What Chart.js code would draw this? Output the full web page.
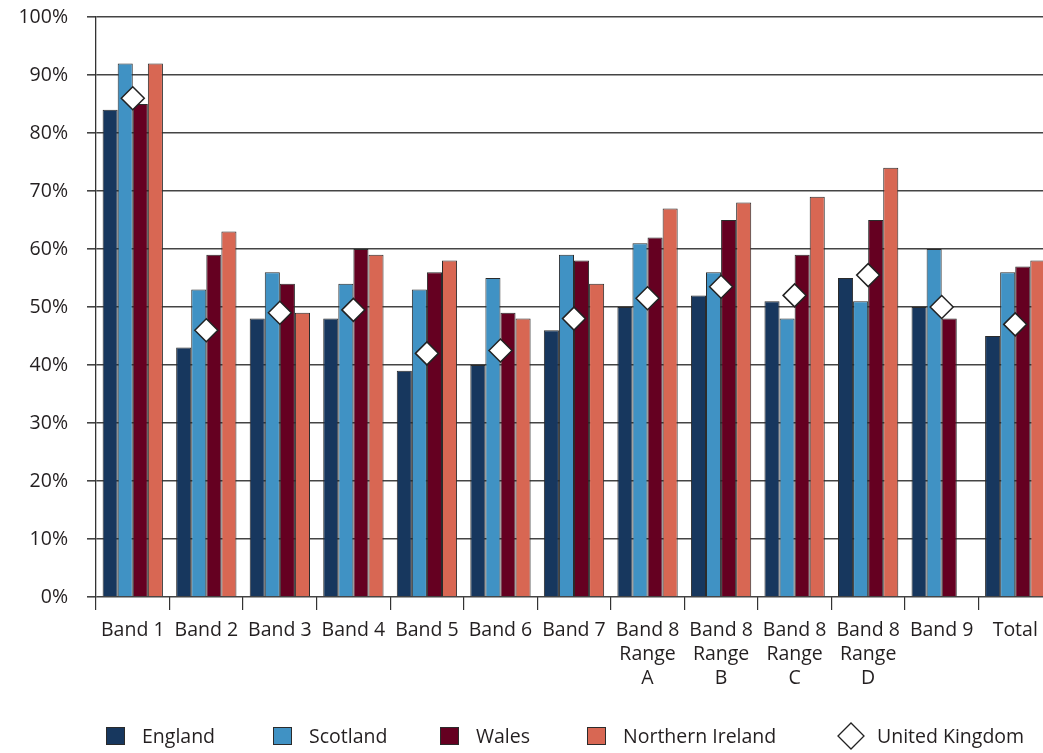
<!DOCTYPE html>
<html>
<head>
<meta charset="utf-8">
<script src="https://cdn.jsdelivr.net/npm/chart.js@4.4.1/dist/chart.umd.min.js"></script>
<style>
  html, body { margin: 0; padding: 0; background: #fff; overflow: hidden; }
  #wrap { width: 1065px; height: 753px; position: relative; }
</style>
</head>
<body>
<div id="wrap"><canvas id="c" width="1065" height="753"></canvas></div>
<script>
// Pay bands, proportion (%) per nation
const categories = [
  'Band 1', 'Band 2', 'Band 3', 'Band 4', 'Band 5', 'Band 6', 'Band 7',
  ['Band 8', 'Range', 'A'], ['Band 8', 'Range', 'B'], ['Band 8', 'Range', 'C'],
  ['Band 8', 'Range', 'D'], 'Band 9', 'Total'
];
const england         = [84, 43, 48, 48, 39, 40, 46, 50, 52, 51, 55, 50, 45];
const scotland        = [92, 53, 56, 54, 53, 55, 59, 61, 56, 48, 51, 60, 56];
const wales           = [85, 59, 54, 60, 56, 49, 58, 62, 65, 59, 65, 48, 57];
const northernIreland = [92, 63, 49, 59, 58, 48, 54, 67, 68, 69, 74, null, 58];
const unitedKingdom   = [86, 46, 49, 49.5, 42, 42.5, 48, 51.5, 53.5, 52, 55.5, 50, 47];
const yTicks = [0, 10, 20, 30, 40, 50, 60, 70, 80, 90, 100];

const FONT = "'Open Sans', 'DejaVu Sans', sans-serif";
const TEXT = '#231f20';
const colors = {
  england: '#17375e',
  scotland: '#4092c4',
  wales: '#650021',
  ni: '#d86753'
};

function barSet(label, data, color) {
  return {
    type: 'bar', label, data,
    backgroundColor: color,
    borderColor: '#2b2b2b',
    borderWidth: 1,
    categoryPercentage: 0.82,
    barPercentage: 1.0,
    order: 1
  };
}

// Legend drawn in fixed columns beneath the axis
const bottomLegend = {
  id: 'bottomLegend',
  afterDraw(chart) {
    const ctx = chart.ctx;
    const y = 736;
    const cols = [106, 273, 440, 587, 838];
    ctx.save();
    ctx.font = '19.5px ' + FONT;
    ctx.textBaseline = 'middle';
    ctx.fillStyle = TEXT;
    chart.data.datasets.forEach((ds, i) => {
      const x = cols[i];
      if (ds.type === 'bar') {
        ctx.fillStyle = ds.backgroundColor;
        ctx.fillRect(x, y - 9, 19, 18);
        ctx.strokeStyle = '#2b2b2b';
        ctx.lineWidth = 1;
        ctx.strokeRect(x + 0.5, y - 8.5, 18, 17);
        ctx.fillStyle = TEXT;
        ctx.fillText(ds.label, x + 36, y + 1);
      } else {
        const cx = x + 13;
        ctx.beginPath();
        ctx.moveTo(cx - 13, y);
        ctx.lineTo(cx, y - 13);
        ctx.lineTo(cx + 13, y);
        ctx.lineTo(cx, y + 13);
        ctx.closePath();
        ctx.fillStyle = '#fff';
        ctx.fill();
        ctx.strokeStyle = '#222';
        ctx.lineWidth = 1.3;
        ctx.stroke();
        ctx.fillStyle = TEXT;
        ctx.fillText(ds.label, x + 39, y + 1);
      }
    });
    ctx.restore();
  }
};

new Chart(document.getElementById('c'), {
  data: {
    labels: categories,
    datasets: [
      barSet('England', england, colors.england),
      barSet('Scotland', scotland, colors.scotland),
      barSet('Wales', wales, colors.wales),
      barSet('Northern Ireland', northernIreland, colors.ni),
      {
        type: 'line', label: 'United Kingdom', data: unitedKingdom,
        showLine: false,
        pointStyle: 'rectRot',
        pointRadius: 11.5,
        pointHoverRadius: 11.5,
        pointBackgroundColor: '#ffffff',
        pointBorderColor: '#222222',
        pointBorderWidth: 1.5,
        order: 0
      }
    ]
  },
  options: {
    responsive: false,
    animation: false,
    layout: { padding: { top: 17, right: 5, bottom: 56, left: 0 } },
    plugins: {
      legend: { display: false },
      tooltip: { enabled: false }
    },
    scales: {
      x: {
        offset: true,
        grid: {
          offset: true,
          drawOnChartArea: false,
          drawTicks: true,
          tickLength: 13,
          color: '#333',
          lineWidth: 1.2
        },
        border: { display: false },
        ticks: {
          color: TEXT,
          padding: 8,
          maxRotation: 0,
          autoSkip: false,
          font: { family: FONT, size: 19.5, lineHeight: 1.23 }
        },
        afterFit(scale) { scale.height = 100; }
      },
      y: {
        min: 0,
        max: 100,
        afterBuildTicks(scale) { scale.ticks = yTicks.map(v => ({ value: v })); },
        grid: {
          color: '#444',
          lineWidth: 1.6,
          drawTicks: true,
          tickLength: 9
        },
        border: { display: true, color: '#333', width: 1.3 },
        ticks: {
          color: TEXT,
          padding: 19,
          font: { family: FONT, size: 19.5 },
          callback: v => v + '%'
        },
        afterFit(scale) {
          scale.width = 96;
          scale.paddingTop = 0;
          scale.paddingBottom = 0;
        }
      }
    }
  },
  plugins: [bottomLegend]
});
</script>
</body>
</html>
